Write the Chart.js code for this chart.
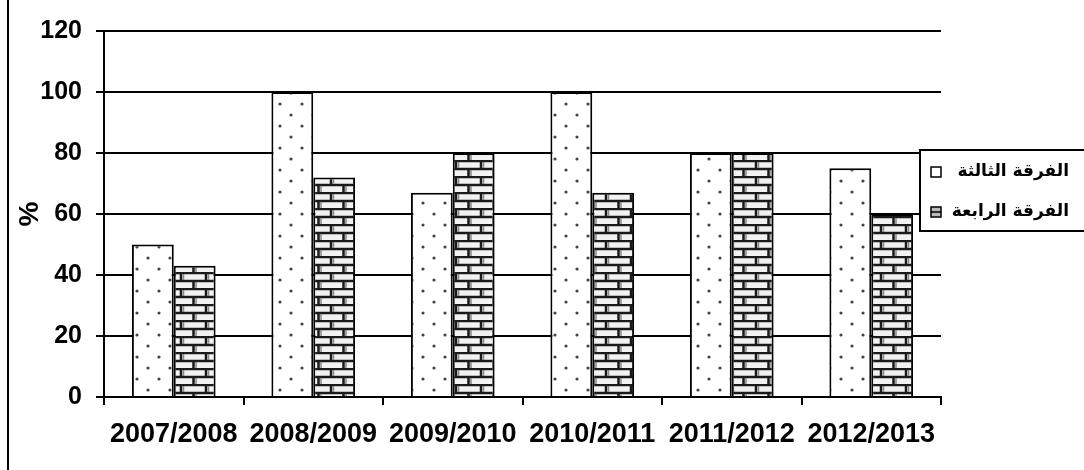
<!DOCTYPE html>
<html>
<head>
<meta charset="utf-8">
<script src="https://cdn.jsdelivr.net/npm/chart.js@4.4.1/dist/chart.umd.min.js"></script>
<style>
  html, body { margin: 0; padding: 0; background: #fff; }
  #wrap { width: 1084px; height: 470px; }
</style>
</head>
<body>
<div id="wrap"><canvas id="chart" width="1084" height="470"></canvas></div>
<script>
// data
const years = ['2007/2008', '2008/2009', '2009/2010', '2010/2011', '2011/2012', '2012/2013'];
const thirdYear = [50, 100, 67, 100, 80, 75];
const fourthYear = [43, 72, 80, 67, 80, 60];
const seriesNames = ['الفرقة الثالثة', 'الفرقة الرابعة'];
const yTicks = [0, 20, 40, 60, 80, 100, 120];

const FONT = '"Liberation Sans", Arial, "DejaVu Sans", sans-serif';

// fill patterns
function dotPattern() {
  const c = document.createElement('canvas');
  c.width = 22; c.height = 22;
  const g = c.getContext('2d');
  g.fillStyle = '#fff'; g.fillRect(0, 0, 22, 22);
  g.fillStyle = '#444';
  [[5, 5], [16, 16]].forEach(p => { g.beginPath(); g.arc(p[0], p[1], 1.6, 0, Math.PI * 2); g.fill(); });
  return g.createPattern(c, 'repeat');
}
function brickPattern() {
  const c = document.createElement('canvas');
  c.width = 25; c.height = 16;
  const g = c.getContext('2d');
  g.fillStyle = '#f2f2f2'; g.fillRect(0, 0, 25, 16);
  g.strokeStyle = '#1a1a1a'; g.lineWidth = 2.5;
  g.beginPath();
  g.moveTo(0, 1); g.lineTo(25, 1);
  g.moveTo(0, 9); g.lineTo(25, 9);
  g.moveTo(6, 1); g.lineTo(6, 9);
  g.moveTo(18.5, 9); g.lineTo(18.5, 17);
  g.stroke();
  g.strokeStyle = '#888'; g.lineWidth = 1.5;
  g.beginPath();
  g.moveTo(8.5, 2); g.lineTo(8.5, 8);
  g.moveTo(21, 10); g.lineTo(21, 16);
  g.stroke();
  return g.createPattern(c, 'repeat');
}

// frame line + legend box
const decorPlugin = {
  id: 'decor',
  afterDraw(chart) {
    const ctx = chart.ctx;
    ctx.save();
    ctx.strokeStyle = '#000';
    ctx.lineWidth = 2;
    ctx.beginPath(); ctx.moveTo(8, 0); ctx.lineTo(8, 470); ctx.stroke();

    // legend
    ctx.fillStyle = '#fff';
    ctx.fillRect(920, 150, 170, 81);
    ctx.strokeRect(920, 150, 170, 81);

    ctx.font = 'bold 17px "DejaVu Sans", sans-serif';
    ctx.fillStyle = '#000';
    ctx.textAlign = 'right';
    ctx.textBaseline = 'middle';
    ctx.fillText(seriesNames[0], 1069, 172);
    ctx.fillText(seriesNames[1], 1069, 212);

    ctx.lineWidth = 1.5;
    ctx.fillStyle = '#fff';
    ctx.fillRect(931, 167, 10, 10);
    ctx.strokeRect(931, 167, 10, 10);

    ctx.fillStyle = '#bbb';
    ctx.fillRect(931, 207, 10, 10);
    ctx.strokeRect(931, 207, 10, 10);
    ctx.beginPath(); ctx.moveTo(931, 212); ctx.lineTo(941, 212); ctx.stroke();
    ctx.restore();
  }
};

new Chart(document.getElementById('chart'), {
  type: 'bar',
  data: {
    labels: years,
    datasets: [
      { label: seriesNames[0], data: thirdYear, backgroundColor: dotPattern(), borderColor: '#000', borderWidth: 2 },
      { label: seriesNames[1], data: fourthYear, backgroundColor: brickPattern(), borderColor: '#000', borderWidth: 2 }
    ]
  },
  options: {
    responsive: false,
    animation: false,
    layout: { padding: { left: 0, top: 31, right: 143, bottom: 0 } },
    datasets: { bar: { categoryPercentage: 0.6, barPercentage: 1.0 } },
    plugins: { legend: { display: false }, tooltip: { enabled: false } },
    scales: {
      x: {
        afterFit(s) { s.height = 73; },
        grid: { offset: true, drawOnChartArea: false, drawTicks: true, tickLength: 8, color: '#000', lineWidth: 2 },
        border: { display: true, color: '#000', width: 2 },
        ticks: { color: '#000', font: { family: FONT, size: 27, weight: 'bold' }, padding: 13, maxRotation: 0, autoSkip: false }
      },
      y: {
        min: 0, max: 120,
        afterFit(s) { s.width = 104; },
        afterBuildTicks(s) { s.ticks = yTicks.map(v => ({ value: v })); },
        grid: { color: '#000', lineWidth: 2, tickLength: 8 },
        border: { display: true, color: '#000', width: 2 },
        ticks: { color: '#000', font: { family: FONT, size: 25, weight: 'bold' }, padding: 14 },
        title: { display: true, text: '%', color: '#000', font: { family: FONT, size: 28, weight: 'bold' }, padding: { top: 13, bottom: 0 } }
      }
    }
  },
  plugins: [decorPlugin]
});
</script>
</body>
</html>
